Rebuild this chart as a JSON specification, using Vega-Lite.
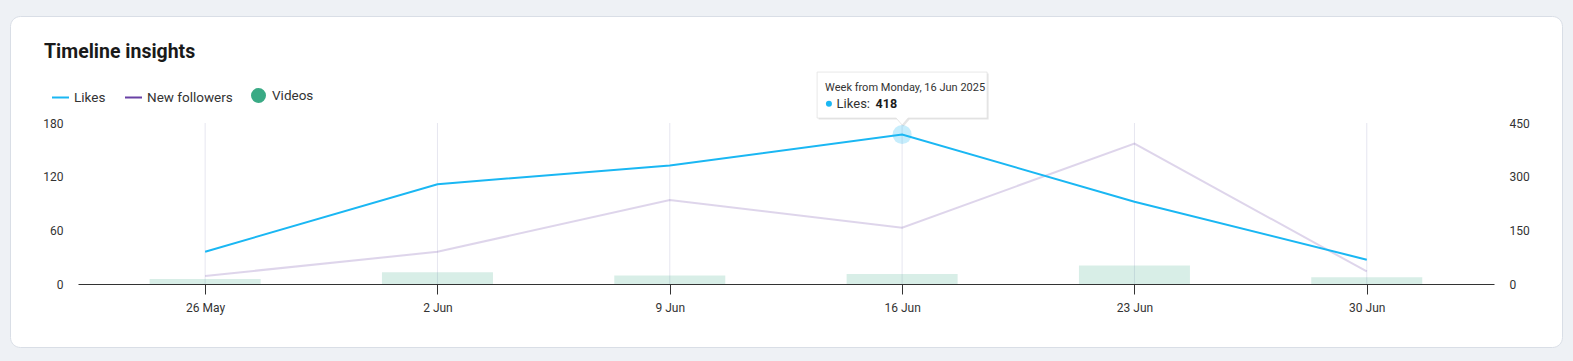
{
  "$schema": "https://vega.github.io/schema/vega-lite/v6.json",
  "autosize": {"type": "none"},
  "padding": {"left": 10, "top": 16, "right": 11, "bottom": 14},
  "width": 1552,
  "height": 331,
  "background": "#eef1f5",
  "title": {
    "text": "Timeline insights",
    "anchor": "start",
    "frame": "group",
    "offset": -61,
    "baseline": "alphabetic",
    "dx": 34,
    "font": "Roboto",
    "fontSize": 19.5,
    "fontWeight": 700,
    "color": "#1a1a1a"
  },
  "data": {
    "values": [
      {"date": "2025-05-26T00:00:00", "likes": 90, "followers": 9, "videos": 3},
      {"date": "2025-06-02T00:00:00", "likes": 279, "followers": 36, "videos": 7},
      {"date": "2025-06-09T00:00:00", "likes": 331, "followers": 94, "videos": 5},
      {"date": "2025-06-16T00:00:00", "likes": 418, "followers": 63, "videos": 6},
      {"date": "2025-06-23T00:00:00", "likes": 230, "followers": 157, "videos": 11},
      {"date": "2025-06-30T00:00:00", "likes": 68, "followers": 14, "videos": 4}
    ]
  },
  "encoding": {
    "x": {
      "field": "date",
      "type": "temporal",
      "title": null,
      "scale": {
        "domain": [
          {"year": 2025, "month": 5, "date": 22, "hours": 4, "minutes": 4},
          {"year": 2025, "month": 7, "date": 3, "hours": 20, "minutes": 0}
        ],
        "range": [68, 1484],
        "padding": 0,
        "nice": false
      },
      "axis": {
        "values": [
          {"year": 2025, "month": 5, "date": 26},
          {"year": 2025, "month": 6, "date": 2},
          {"year": 2025, "month": 6, "date": 9},
          {"year": 2025, "month": 6, "date": 16},
          {"year": 2025, "month": 6, "date": 23},
          {"year": 2025, "month": 6, "date": 30}
        ],
        "format": "%-d %b",
        "grid": false,
        "offset": -63,
        "tickSize": 10,
        "tickColor": "#333333",
        "domainColor": "#333333",
        "labelPadding": 8,
        "labelFont": "Roboto",
        "labelFontSize": 12,
        "labelColor": "#333333",
        "labelFlush": false,
        "labelOverlap": false
      }
    }
  },
  "layer": [
    {
      "data": {"values": [{"g": 60}, {"g": 120}, {"g": 180}]},
      "mark": {"type": "rule", "color": "#e6e6e6", "strokeWidth": 1},
      "encoding": {
        "x": {"datum": {"year": 2025, "month": 5, "date": 22, "hours": 4, "minutes": 4}, "type": "temporal"},
        "x2": {"datum": {"year": 2025, "month": 7, "date": 3, "hours": 20, "minutes": 0}},
        "y": {"field": "g", "type": "quantitative", "scale": {"domain": [0, 180], "range": [268, 107], "nice": false}, "axis": null}
      }
    },
    {
      "mark": {"type": "rule", "color": "#e6e6f0", "strokeWidth": 1},
      "encoding": {
        "y": {"datum": 0, "type": "quantitative", "scale": {"domain": [0, 180], "range": [268, 107], "nice": false}, "axis": null},
        "y2": {"datum": 180}
      }
    },
    {
      "mark": {"type": "bar", "width": 111, "opacity": 0.2},
      "encoding": {
        "y": {"field": "videos", "type": "quantitative", "scale": {"domain": [0, 96], "range": [268, 107], "nice": false}, "axis": null},
        "color": {"datum": "Videos"}
      }
    },
    {
      "mark": {"type": "line", "strokeWidth": 2, "opacity": 0.22},
      "encoding": {
        "y": {
          "field": "followers",
          "type": "quantitative",
          "title": null,
          "scale": {"domain": [0, 180], "range": [268, 107], "nice": false},
          "axis": {
            "orient": "left",
            "values": [0, 60, 120, 180],
            "grid": false,
            "domain": false,
            "ticks": false,
            "tickSize": 0,
            "labelPadding": 0,
            "offset": -53,
            "labelFont": "Roboto",
            "labelFontSize": 12,
            "labelColor": "#333333"
          }
        },
        "color": {"datum": "New followers"}
      }
    },
    {
      "mark": {"type": "line", "strokeWidth": 2},
      "encoding": {
        "y": {
          "field": "likes",
          "type": "quantitative",
          "title": null,
          "scale": {"domain": [0, 450], "range": [268, 107], "nice": false},
          "axis": {
            "orient": "right",
            "values": [0, 150, 300, 450],
            "grid": false,
            "domain": false,
            "ticks": false,
            "tickSize": 0,
            "labelPadding": 0,
            "offset": -53,
            "labelFont": "Roboto",
            "labelFontSize": 12,
            "labelColor": "#333333"
          }
        },
        "color": {
          "datum": "Likes",
          "scale": {"domain": ["Likes", "New followers", "Videos"], "range": ["#1ab7f3", "#6941a5", "#3aaa85"]},
          "legend": {
            "orient": "none",
            "legendX": 41,
            "legendY": 70,
            "direction": "horizontal",
            "title": null,
            "padding": 0,
            "columnPadding": 15,
            "labelOffset": 4,
            "labelFont": "Roboto",
            "labelFontSize": 13.5,
            "labelColor": "#333333",
            "symbolOpacity": 1,
            "symbolSize": 289,
            "encode": {
              "symbols": {
                "update": {
                  "shape": {"signal": "datum.value === 'Videos' ? 'circle' : 'stroke'"},
                  "size": {"signal": "datum.value === 'Videos' ? 169 : 289"},
                  "fill": {"signal": "datum.value === 'Videos' ? '#3aaa85' : 'transparent'"},
                  "stroke": {"signal": "datum.value === 'Videos' ? 'transparent' : (datum.value === 'Likes' ? '#1ab7f3' : '#6941a5')"},
                  "strokeWidth": {"value": 2},
                  "opacity": {"value": 1}
                }
              }
            }
          }
        }
      }
    },
    {
      "transform": [{"filter": {"field": "date", "equal": {"year": 2025, "month": 6, "date": 16}}}],
      "layer": [
        {
          "mark": {"type": "point", "filled": true, "size": 361, "color": "#1ab7f3", "opacity": 0.25, "strokeWidth": 0}
        },
        {
          "mark": {"type": "point", "filled": true, "shape": "M-1,-0.2706 L1,-0.2706 L1,0.2706 L0.07,0.2706 L0,0.353 L-0.07,0.2706 L-1,0.2706 Z", "size": 28900, "color": "#000000", "opacity": 0.1, "strokeWidth": 0, "xOffset": 1.5, "yOffset": -38}
        },
        {
          "mark": {"type": "point", "filled": true, "shape": "M-1,-0.2706 L1,-0.2706 L1,0.2706 L0.07,0.2706 L0,0.353 L-0.07,0.2706 L-1,0.2706 Z", "size": 28900, "fill": "#ffffff", "stroke": "#e0e0e0", "strokeWidth": 0.7, "opacity": 1, "xOffset": 0, "yOffset": -39.4}
        },
        {
          "mark": {"type": "text", "align": "left", "baseline": "alphabetic", "dx": -77, "dy": -43.7, "font": "Roboto", "fontSize": 11, "color": "#333333"},
          "encoding": {"text": {"field": "date", "type": "temporal", "format": "Week from %A, %-d %b %Y"}}
        },
        {
          "mark": {"type": "point", "filled": true, "size": 36, "color": "#1ab7f3", "opacity": 1, "strokeWidth": 0, "xOffset": -73.2, "yOffset": -30.7}
        },
        {
          "mark": {"type": "text", "align": "left", "baseline": "alphabetic", "dx": -65.5, "dy": -26.7, "font": "Roboto", "fontSize": 13, "color": "#333333", "text": "Likes:"}
        },
        {
          "mark": {"type": "text", "align": "left", "baseline": "alphabetic", "dx": -26.5, "dy": -26.7, "font": "Roboto", "fontSize": 12.5, "fontWeight": 700, "color": "#1a1a1a"},
          "encoding": {"text": {"field": "likes", "type": "quantitative"}}
        }
      ],
      "encoding": {
        "y": {"field": "likes", "type": "quantitative", "scale": {"domain": [0, 450], "range": [268, 107], "nice": false}, "axis": null}
      }
    }
  ],
  "resolve": {"scale": {"y": "independent"}, "axis": {"y": "independent"}},
  "config": {
    "view": {"fill": "#ffffff", "stroke": "#d9dee6", "cornerRadius": 10, "strokeWidth": 1},
    "font": "Roboto"
  }
}
